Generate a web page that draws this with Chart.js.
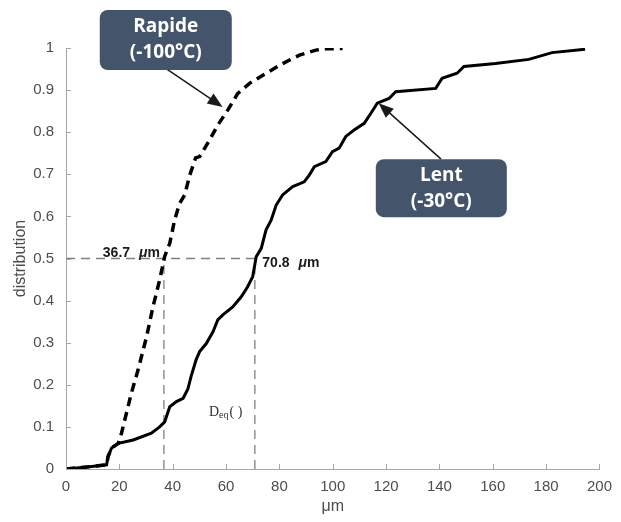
<!DOCTYPE html>
<html>
<head>
<meta charset="utf-8">
<script src="https://cdn.jsdelivr.net/npm/chart.js@4"></script>
<style>
  html, body { margin: 0; padding: 0; background: #fff; }
  canvas { display: block; }
</style>
</head>
<body>
<canvas id="c" width="621" height="522"></canvas>
<script>
// data (x in µm, y cumulative distribution)
const lentX = [0, 8, 15.2, 15.8, 17.1, 19.6, 25.2, 32, 35.1, 37, 38.9, 41.4, 43.9, 45.7, 46.9, 48.8, 50.1, 52.6, 55.1, 56.9, 58.8, 62.5, 65.7, 68.1, 70, 71.3, 73.2, 75, 76.9, 78.8, 81.2, 85, 89.3, 91.2, 93.1, 97.4, 99.9, 102.4, 104.9, 108, 111.8, 114.3, 116.7, 121.1, 123.6, 138.6, 141, 146.6, 149.2, 161, 173.5, 182.2, 194.6];
const lentY = [0, 0.005, 0.01, 0.03, 0.05, 0.061, 0.069, 0.085, 0.10, 0.112, 0.148, 0.16, 0.168, 0.19, 0.22, 0.26, 0.279, 0.298, 0.326, 0.354, 0.366, 0.385, 0.409, 0.433, 0.457, 0.504, 0.524, 0.568, 0.591, 0.627, 0.651, 0.671, 0.682, 0.698, 0.718, 0.73, 0.754, 0.762, 0.79, 0.805, 0.821, 0.845, 0.869, 0.880, 0.896, 0.904, 0.928, 0.940, 0.956, 0.963, 0.973, 0.989, 0.997];

const rapideX = [0, 8, 15.2, 15.8, 17.1, 19.6, 20.8, 24.5, 27, 30.2, 32.6, 35.1, 37, 38.9, 40.7, 42.6, 44.5, 46.4, 48.6, 50.1, 53.8, 56.9, 60.7, 64.4, 68.8, 75, 81.2, 87.5, 93.7, 97, 103.7];
const rapideY = [0, 0.005, 0.01, 0.03, 0.05, 0.061, 0.085, 0.18, 0.235, 0.314, 0.385, 0.449, 0.505, 0.536, 0.591, 0.631, 0.651, 0.698, 0.739, 0.742, 0.781, 0.817, 0.853, 0.892, 0.916, 0.94, 0.963, 0.983, 0.995, 0.998, 0.999];

// median markers
const d50Rapide = 36.7;
const d50Lent = 70.8;
const d50Level = 0.5;

const xTicks = [0, 20, 40, 60, 80, 100, 120, 140, 160, 180, 200];
const yTicks = [0, 0.1, 0.2, 0.3, 0.4, 0.5, 0.6, 0.7, 0.8, 0.9, 1];

const pts = (xs, ys) => xs.map((x, i) => ({ x, y: ys[i] }));

Chart.defaults.font.family = "'Liberation Sans', Arial, sans-serif";
Chart.defaults.color = '#4d4d4d';

const AXIS = '#a6a6a6';
const REF = '#808080';

const refLine = (xs, ys) => ({
  data: pts(xs, ys), showLine: true, borderColor: REF, borderWidth: 1.3,
  borderDash: [9, 6], pointRadius: 0, order: 5,
});

// inward tick marks, matlab style
const innerTicks = {
  id: 'innerTicks',
  afterDraw(chart) {
    const { ctx, scales: { x, y } } = chart;
    ctx.save();
    ctx.strokeStyle = AXIS;
    ctx.lineWidth = 1;
    ctx.beginPath();
    xTicks.forEach(v => {
      const px = Math.round(x.getPixelForValue(v)) + 0.5;
      ctx.moveTo(px, y.bottom); ctx.lineTo(px, y.bottom - 5);
    });
    yTicks.forEach(v => {
      const py = Math.round(y.getPixelForValue(v)) + 0.5;
      ctx.moveTo(x.left, py); ctx.lineTo(x.left + 5, py);
    });
    ctx.stroke();
    ctx.restore();
  }
};

function arrow(ctx, x1, y1, x2, y2) {
  const a = Math.atan2(y2 - y1, x2 - x1);
  const L = 15, W = 6;
  ctx.beginPath();
  ctx.moveTo(x1, y1);
  ctx.lineTo(x2 - Math.cos(a) * L * 0.8, y2 - Math.sin(a) * L * 0.8);
  ctx.stroke();
  ctx.beginPath();
  ctx.moveTo(x2, y2);
  ctx.lineTo(x2 - Math.cos(a) * L - Math.sin(a) * W, y2 - Math.sin(a) * L + Math.cos(a) * W);
  ctx.lineTo(x2 - Math.cos(a) * L + Math.sin(a) * W, y2 - Math.sin(a) * L - Math.cos(a) * W);
  ctx.closePath();
  ctx.fill();
}

function callout(ctx, cx, cy, w, h, lines) {
  ctx.fillStyle = '#44546a';
  ctx.beginPath();
  ctx.roundRect(cx - w / 2, cy - h / 2, w, h, 8);
  ctx.fill();
  ctx.fillStyle = '#fff';
  ctx.font = "bold 19px 'Open Sans', sans-serif";
  ctx.textAlign = 'center';
  ctx.textBaseline = 'middle';
  ctx.fillText(lines[0], cx, cy - 13);
  ctx.fillText(lines[1], cx, cy + 13);
}

// "36.7 µm" style label with italic mu
function muLabel(ctx, px, py, num) {
  const f = "bold 14px 'Liberation Sans', sans-serif";
  ctx.fillStyle = '#1a1a1a';
  ctx.textAlign = 'left';
  ctx.textBaseline = 'middle';
  ctx.font = f;
  ctx.fillText(num, px, py);
  let w = ctx.measureText(num).width + 9;
  ctx.font = "italic " + f;
  ctx.fillText('\u03bc', px + w, py);
  w += ctx.measureText('\u03bc').width;
  ctx.font = f;
  ctx.fillText('m', px + w, py);
}

const notes = {
  id: 'notes',
  afterDraw(chart) {
    const { ctx, scales: { x, y } } = chart;
    ctx.save();
    ctx.strokeStyle = '#1a1a1a';
    ctx.fillStyle = '#1a1a1a';
    ctx.lineWidth = 1.5;
    arrow(ctx, x.getPixelForValue(37.8), y.getPixelForValue(0.95), x.getPixelForValue(58.7), y.getPixelForValue(0.86));
    arrow(ctx, x.getPixelForValue(140.6), y.getPixelForValue(0.736), x.getPixelForValue(117.2), y.getPixelForValue(0.869));

    callout(ctx, x.getPixelForValue(37.4), y.getPixelForValue(1.019), 132, 60, ['Rapide', '(-100\u00b0C)']);
    callout(ctx, x.getPixelForValue(140.7), y.getPixelForValue(0.667), 131, 58, ['Lent', '(-30\u00b0C)']);

    muLabel(ctx, x.getPixelForValue(13.8), y.getPixelForValue(0.513), d50Rapide.toFixed(1));
    muLabel(ctx, x.getPixelForValue(73.6), y.getPixelForValue(0.489), d50Lent.toFixed(1));

    // D_eq( )
    const dx = x.getPixelForValue(53.6), dy = y.getPixelForValue(0.135);
    ctx.fillStyle = '#333';
    ctx.textAlign = 'left';
    ctx.textBaseline = 'middle';
    ctx.font = "14px 'Liberation Serif', serif";
    ctx.fillText('D', dx, dy);
    let w = ctx.measureText('D').width;
    ctx.font = "10px 'Liberation Serif', serif";
    ctx.fillText('eq', dx + w, dy + 3);
    w += ctx.measureText('eq').width;
    ctx.font = "14px 'Liberation Serif', serif";
    ctx.fillText('( )', dx + w + 1, dy);
    ctx.restore();
  }
};

new Chart(document.getElementById('c'), {
  type: 'scatter',
  data: {
    datasets: [
      { data: pts(lentX, lentY), showLine: true, borderColor: '#000', borderWidth: 3,
        pointRadius: 0, order: 1 },
      { data: pts(rapideX, rapideY), showLine: true, borderColor: '#000', borderWidth: 3.5,
        borderDash: [9, 6], pointRadius: 0, order: 2 },
      refLine([0, d50Lent], [d50Level, d50Level]),
      refLine([d50Rapide, d50Rapide], [0, d50Level]),
      refLine([d50Lent, d50Lent], [0, d50Level]),
    ],
  },
  options: {
    responsive: false,
    animation: false,
    layout: { padding: { top: 48, right: 20, left: 0, bottom: 0 } },
    plugins: { legend: { display: false }, tooltip: { enabled: false } },
    scales: {
      x: {
        type: 'linear', min: 0, max: 200,
        afterBuildTicks: s => { s.ticks = xTicks.map(v => ({ value: v })); },
        afterFit: s => { s.height = 53; },
        grid: { display: false, drawTicks: false, tickLength: 0 },
        border: { color: AXIS },
        ticks: { padding: 9, font: { size: 15 }, maxRotation: 0 },
        title: { display: true, text: '\u03bcm', color: '#4d4d4d', font: { size: 16 },
          padding: { top: 0, bottom: 6 } },
      },
      y: {
        min: 0, max: 1,
        afterBuildTicks: s => { s.ticks = yTicks.map(v => ({ value: v })); },
        afterFit: s => { s.width = 66; },
        grid: { display: false, drawTicks: false, tickLength: 0 },
        border: { color: AXIS },
        ticks: { padding: 12, font: { size: 15 }, callback: v => String(+v.toFixed(2)) },
        title: { display: true, text: 'distribution', color: '#4d4d4d', font: { size: 16 },
          padding: { top: 11, bottom: 0 } },
      },
    },
  },
  plugins: [innerTicks, notes],
});
</script>
</body>
</html>
